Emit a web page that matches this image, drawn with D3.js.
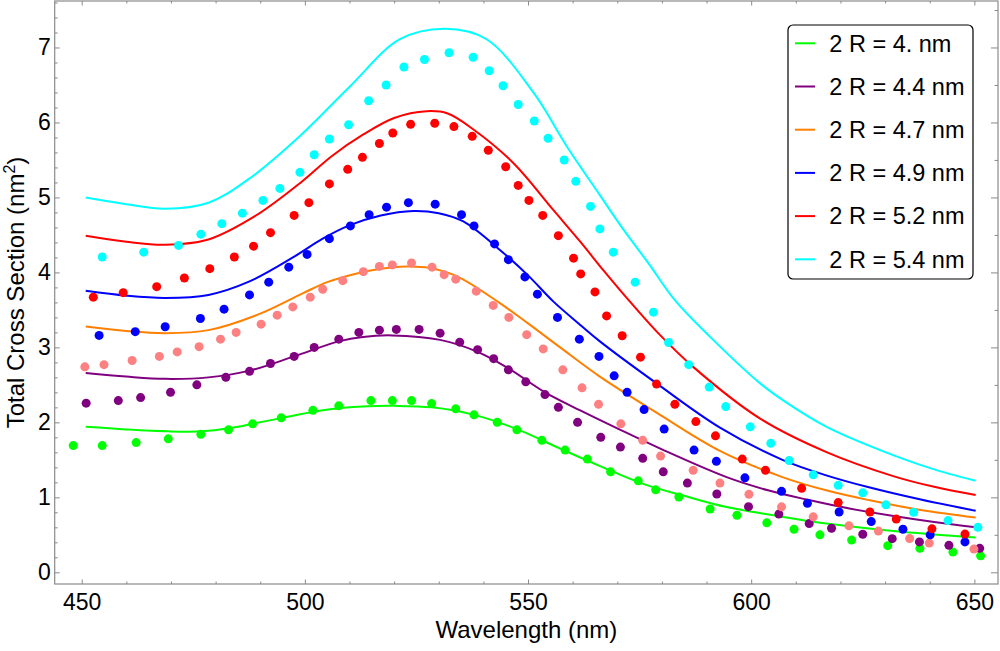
<!DOCTYPE html>
<html>
<head>
<meta charset="utf-8">
<script src="https://cdn.jsdelivr.net/npm/d3@7"></script>
<style>
body { margin: 0; background: #fff; }
svg { display: block; font-family: "Liberation Sans", Arial, sans-serif; }
</style>
</head>
<body>
<div id="chart"></div>
<script>
// legend text, one per particle size
let labels = ['2 R = 4. nm', '2 R = 4.4 nm', '2 R = 4.7 nm', '2 R = 4.9 nm', '2 R = 5.2 nm', '2 R = 5.4 nm']

// fitted curves: [wavelength, cross section]
let fit40 = [[450.9,1.94],[460,1.905],[469.4,1.88],[477,1.88],[483,1.92],[489,1.99],[495,2.06],[502,2.14],[508,2.19],[514,2.215],[520,2.22],[528.4,2.20],[537.9,2.10],[547.5,1.91],[557.2,1.65],[566,1.42],[575.8,1.18],[585,1.02],[594.5,0.87],[605,0.76],[613.2,0.68],[622.4,0.61],[631.9,0.55],[641,0.505],[650.3,0.465]]
let fit44 = [[450.9,2.657],[460,2.61],[468.7,2.58],[478.4,2.60],[487.6,2.69],[497.6,2.88],[507.6,3.08],[513,3.14],[519.6,3.16],[530.3,3.10],[538.7,2.94],[545.6,2.72],[553.8,2.40],[561.7,2.16],[570,1.92],[580,1.64],[594.5,1.27],[604,1.09],[613.2,0.96],[622,0.85],[631.9,0.75],[641,0.67],[650.3,0.60]]
let fit47 = [[450.9,3.28],[460,3.22],[468.7,3.19],[478.4,3.23],[489.6,3.44],[499.5,3.72],[505,3.87],[511.2,3.98],[516,4.04],[522.8,4.08],[528,4.06],[534,3.95],[543.7,3.59],[550,3.32],[557.2,3.00],[566.1,2.61],[578.8,2.13],[593,1.62],[607,1.27],[617,1.09],[626.6,0.96],[638,0.83],[650.3,0.73]]
let fit49 = [[450.9,3.755],[460,3.69],[468.7,3.66],[478.4,3.70],[487.6,3.88],[497.6,4.21],[504,4.45],[510.1,4.63],[517,4.76],[524.3,4.82],[530,4.79],[535.5,4.68],[543.7,4.30],[550,3.96],[555.7,3.61],[561.7,3.30],[566.1,3.08],[578.8,2.52],[593,1.93],[607,1.50],[617,1.29],[626.6,1.13],[638,0.97],[650.3,0.82]]
let fit52 = [[450.9,4.49],[460,4.41],[468.7,4.37],[478.4,4.44],[488.8,4.75],[499.3,5.21],[506,5.55],[513.1,5.84],[520,6.06],[527.3,6.15],[532,6.12],[537.7,5.91],[546.7,5.46],[555.7,4.83],[561.7,4.41],[567,4.02],[572.1,3.66],[579,3.20],[587,2.74],[602,2.05],[617,1.60],[632,1.28],[641,1.14],[650.3,1.03]]
let fit54 = [[450.9,5.00],[460,4.91],[468.7,4.85],[478.4,4.93],[487.3,5.24],[498.9,5.82],[510.1,6.48],[521.3,7.11],[531.4,7.25],[540.7,7.11],[551.2,6.40],[558.7,5.68],[566.1,5.03],[571.4,4.57],[577,4.12],[582.9,3.63],[590.8,3.14],[602,2.52],[607.5,2.28],[616.9,1.94],[628.9,1.63],[640.1,1.39],[650.3,1.22]]

// measured points: [wavelength, cross section]
let meas40 = [[448.1,1.69],[454.6,1.69],[462.2,1.73],[469.4,1.78],[476.7,1.84],[482.9,1.90],[488.3,1.98],[494.7,2.06],[501.8,2.16],[507.6,2.22],[514.8,2.29],[519.6,2.29],[523.9,2.29],[528.4,2.25],[533.8,2.18],[537.9,2.10],[543.1,2.00],[547.5,1.90],[553.1,1.76],[558.3,1.63],[563.3,1.51],[568.5,1.34],[574.7,1.22],[578.6,1.10],[583.8,1.005],[590.8,0.845],[596.8,0.76],[603.5,0.66],[609.6,0.574],[615.4,0.50],[622.5,0.43],[630.6,0.355],[637.8,0.32],[645.2,0.27],[651.4,0.22]]
let meas44 = [[451.0,2.256],[458.2,2.29],[463.2,2.33],[469.9,2.40],[475.8,2.50],[482.3,2.60],[487.6,2.68],[492.3,2.785],[497.6,2.88],[502.1,3.00],[507.6,3.11],[512.1,3.20],[516.7,3.23],[520.5,3.24],[525.6,3.24],[530.3,3.19],[534.7,3.07],[538.7,2.97],[542.3,2.85],[545.6,2.70],[549.5,2.54],[553.8,2.37],[556.8,2.20],[561.1,2.00],[566.3,1.80],[570.7,1.67],[575.7,1.52],[580.3,1.34],[585.7,1.19],[592.3,1.045],[599.4,0.876],[606.2,0.776],[613.0,0.65],[618.0,0.587],[625.0,0.507],[631.6,0.449],[637.7,0.405],[644.3,0.36],[651.2,0.32]]
let meas47 = [[450.7,2.74],[455.0,2.77],[461.3,2.825],[467.4,2.88],[471.4,2.94],[476.3,3.01],[481.1,3.11],[484.6,3.20],[490.2,3.31],[493.8,3.43],[497.3,3.54],[501.2,3.67],[504.0,3.775],[508.5,3.89],[513.1,4.01],[516.7,4.08],[519.6,4.10],[523.9,4.125],[528.5,4.07],[531.2,3.97],[533.8,3.91],[538.4,3.75],[542.2,3.56],[545.7,3.40],[549.7,3.17],[553.4,2.98],[557.8,2.70],[562.1,2.46],[565.8,2.24],[570.8,1.98],[575.7,1.76],[579.7,1.55],[587.0,1.36],[593.0,1.19],[599.5,1.04],[606.8,0.873],[613.9,0.74],[621.9,0.62],[628.5,0.55],[635.5,0.45],[639.9,0.39],[649.9,0.31]]
let meas49 = [[453.9,3.16],[462.0,3.21],[468.7,3.275],[476.6,3.385],[481.9,3.51],[487.6,3.70],[491.9,3.87],[496.4,4.07],[500.5,4.24],[505.5,4.45],[510.2,4.62],[514.4,4.77],[518.3,4.87],[523.2,4.93],[529.2,4.91],[535.1,4.77],[537.9,4.62],[542.5,4.38],[545.6,4.17],[549.3,3.94],[552.1,3.71],[556.6,3.40],[561.5,3.11],[565.9,2.88],[569.3,2.62],[572.2,2.40],[576.0,2.17],[580.5,1.91],[587.2,1.63],[592.2,1.48],[598.6,1.26],[606.8,1.08],[612.6,0.92],[619.7,0.805],[626.9,0.676],[634.0,0.574],[640.1,0.50],[647.9,0.405]]
let meas52 = [[452.6,3.67],[459.3,3.73],[466.8,3.81],[473.0,3.925],[478.7,4.05],[484.2,4.205],[488.5,4.35],[492.3,4.53],[497.6,4.76],[500.9,4.93],[505.5,5.18],[509.6,5.375],[512.9,5.535],[516.7,5.72],[519.7,5.86],[523.7,5.975],[529.1,5.99],[533.4,5.945],[537.5,5.815],[541.1,5.63],[545.0,5.41],[547.8,5.16],[550.2,4.96],[553.3,4.76],[556.8,4.49],[560.2,4.19],[561.8,3.98],[565.0,3.74],[567.6,3.42],[571.1,3.155],[575.2,2.87],[578.8,2.51],[582.9,2.24],[587.6,2.01],[592.0,1.82],[598.0,1.51],[603.2,1.36],[611.3,1.12],[619.5,0.93],[626.6,0.805],[632.5,0.71],[640.5,0.58],[647.9,0.51]]
let meas54 = [[454.6,4.205],[463.9,4.27],[471.7,4.36],[476.7,4.51],[481.4,4.65],[486.0,4.79],[490.6,4.96],[494.4,5.12],[498.9,5.335],[502.1,5.57],[505.5,5.78],[509.8,5.97],[514.3,6.29],[518.2,6.50],[522.2,6.74],[526.8,6.84],[532.3,6.93],[537.7,6.87],[541.3,6.69],[544.4,6.49],[547.8,6.24],[551.4,6.02],[554.5,5.79],[558.1,5.50],[560.7,5.215],[564.0,4.88],[566.1,4.58],[569.1,4.27],[574.0,3.87],[578.1,3.47],[581.5,3.065],[586.0,2.77],[590.6,2.47],[594.3,2.21],[599.8,1.94],[604.4,1.72],[608.5,1.49],[613.9,1.30],[619.5,1.16],[625.0,1.06],[630.2,0.90],[636.4,0.80],[644.1,0.69],[650.8,0.60]]

// ticks
let xMajor = [450, 500, 550, 600, 650]
let yMajor = [0, 1, 2, 3, 4, 5, 6, 7]

// colours (lines / dots)
let lineColors = ['#00ff00', '#800080', '#ff8000', '#0000ff', '#ff0000', '#00ffff']
let dotColors = ['#00ff00', '#800080', '#ff8080', '#0000ff', '#ff0000', '#00ffff']

let fits = [fit40, fit44, fit47, fit49, fit52, fit54]
let meas = [meas40, meas44, meas47, meas49, meas52, meas54]

let size = { width: 1000, height: 651, left: 54.7, right: 998, top: 1, bottom: 584 }

let svg = d3.select('#chart')
  .append('svg')
  .attr('width', size.width)
  .attr('height', size.height)

let xScale = d3.scaleLinear().domain([443.95, 655.3]).range([size.left, size.right])
let yScale = d3.scaleLinear().domain([-0.156, 7.62]).range([size.bottom, size.top])

let xMinor = d3.range(450, 651, 10).filter(d => !xMajor.includes(d))
let yMinor = d3.range(0, 7.61, 0.2).map(d => +d.toFixed(1)).filter(d => !yMajor.includes(d))
let yHalf = d3.range(0.5, 7.6, 1)

let frameColor = '#8a8a8a'

function styleAxis(g) {
  g.select('.domain').remove()
  g.selectAll('.tick line').attr('stroke', frameColor)
  g.selectAll('.tick text').attr('fill', '#000').attr('font-size', 23)
}

// bottom axis
svg.append('g')
  .attr('transform', `translate(0,${size.bottom})`)
  .call(d3.axisBottom(xScale).tickValues(xMajor).tickSize(-4.5).tickPadding(9.5).tickFormat(d3.format('d')))
  .call(styleAxis)
svg.append('g')
  .attr('transform', `translate(0,${size.bottom})`)
  .call(d3.axisBottom(xScale).tickValues(xMinor).tickSize(-2.5).tickFormat(''))
  .call(styleAxis)

// top axis
svg.append('g')
  .attr('transform', `translate(0,${size.top})`)
  .call(d3.axisTop(xScale).tickValues(xMajor).tickSize(-4.5).tickFormat(''))
  .call(styleAxis)
svg.append('g')
  .attr('transform', `translate(0,${size.top})`)
  .call(d3.axisTop(xScale).tickValues(xMinor).tickSize(-2.5).tickFormat(''))
  .call(styleAxis)

// left axis
svg.append('g')
  .attr('transform', `translate(${size.left},0)`)
  .call(d3.axisLeft(yScale).tickValues(yMajor).tickSize(-5).tickPadding(4).tickFormat(d3.format('d')))
  .call(styleAxis)
svg.append('g')
  .attr('transform', `translate(${size.left},0)`)
  .call(d3.axisLeft(yScale).tickValues(yMinor).tickSize(-3).tickFormat(''))
  .call(styleAxis)

// right axis
svg.append('g')
  .attr('transform', `translate(${size.right},0)`)
  .call(d3.axisRight(yScale).tickValues(yMajor).tickSize(-7).tickFormat(''))
  .call(styleAxis)
svg.append('g')
  .attr('transform', `translate(${size.right},0)`)
  .call(d3.axisRight(yScale).tickValues(yHalf).tickSize(-3.5).tickFormat(''))
  .call(styleAxis)

// frame
svg.append('rect')
  .attr('x', size.left)
  .attr('y', size.top)
  .attr('width', size.right - size.left)
  .attr('height', size.bottom - size.top)
  .attr('fill', 'none')
  .attr('stroke', frameColor)
  .attr('stroke-width', 1.2)

// axis titles
svg.append('text')
  .attr('x', (size.left + size.right) / 2)
  .attr('y', 638)
  .attr('text-anchor', 'middle')
  .attr('font-size', 24)
  .text('Wavelength (nm)')

let yTitle = svg.append('text')
  .attr('transform', `translate(24,${(size.top + size.bottom) / 2}) rotate(-90)`)
  .attr('text-anchor', 'middle')
  .attr('font-size', 24)
yTitle.append('tspan').text('Total Cross Section (nm')
yTitle.append('tspan').attr('font-size', 16).attr('dy', -9).text('2')
yTitle.append('tspan').attr('dy', 9).text(')')

// fitted lines
let line = d3.line()
  .x(d => xScale(d[0]))
  .y(d => yScale(d[1]))
  .curve(d3.curveCatmullRom.alpha(0.5))

svg.append('g')
  .selectAll('path')
  .data(fits)
  .join('path')
  .attr('d', d => line(d))
  .attr('fill', 'none')
  .attr('stroke', (d, i) => lineColors[i])
  .attr('stroke-width', 2)

// measured dots
svg.append('g')
  .selectAll('g')
  .data(meas)
  .join('g')
  .attr('fill', (d, i) => dotColors[i])
  .selectAll('circle')
  .data(d => d)
  .join('circle')
  .attr('cx', d => xScale(d[0]))
  .attr('cy', d => yScale(d[1]))
  .attr('r', 4.5)

// legend
let legend = svg.append('g').attr('transform', 'translate(788,25)')
legend.append('rect')
  .attr('width', 185)
  .attr('height', 254)
  .attr('rx', 5)
  .attr('fill', '#fff')
  .attr('stroke', '#000')
  .attr('stroke-width', 1.2)

let items = legend.selectAll('g.item')
  .data(labels)
  .join('g')
  .classed('item', true)
  .attr('transform', (d, i) => `translate(0,${18.3 + i * 43.2})`)
items.append('line')
  .attr('x1', 7)
  .attr('x2', 27)
  .attr('stroke', (d, i) => lineColors[i])
  .attr('stroke-width', 2)
items.append('text')
  .attr('x', 41.3)
  .attr('dy', '0.35em')
  .attr('font-size', 23.5)
  .text(d => d)
</script>
</body>
</html>
